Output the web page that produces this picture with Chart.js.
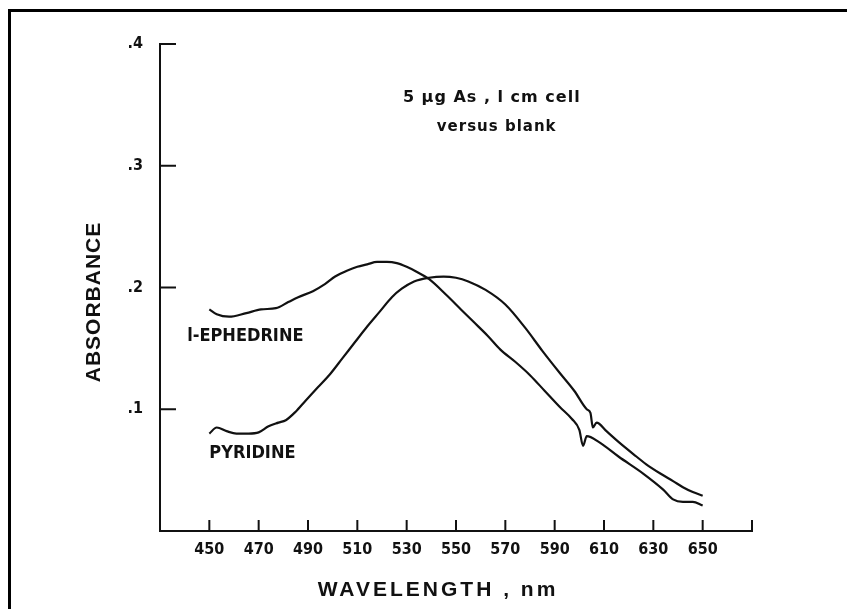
<!DOCTYPE html>
<html lang="en">
<head>
    <meta charset="UTF-8">
    <title>Absorbance versus wavelength</title>
    <style>
        body {
            margin: 0;
            background-color: #fff;
            overflow: hidden;
        }
        .frame {
            position: absolute;
            left: 8px;
            top: 9px;
            width: 860px;
            height: 700px;
            border-left: 3px solid #000;
            border-top: 3px solid #000;
        }
        .wrap {
            position: absolute;
            left: 0;
            top: 0;
            width: 847px;
            height: 609px;
        }
    </style>
</head>
<body>
    <div class="frame"></div>
    <div class="wrap"><canvas id="spectrum"></canvas></div>

    <script src="https://cdn.jsdelivr.net/npm/chart.js"></script>
    <script>
        // values
        const ephedrineNm = [450, 453, 458, 465, 471, 477, 482, 486, 492, 497, 501, 506, 510, 514, 518, 522, 526, 530, 534, 539, 546, 552, 557, 563, 568, 574, 580, 586, 592, 597, 600, 601.5, 603, 608, 616, 626, 634, 638, 642, 646, 650];
        const ephedrineAbs = [0.182, 0.178, 0.176, 0.179, 0.182, 0.183, 0.188, 0.192, 0.197, 0.203, 0.209, 0.214, 0.217, 0.219, 0.221, 0.221, 0.220, 0.217, 0.213, 0.207, 0.194, 0.182, 0.172, 0.160, 0.149, 0.139, 0.128, 0.115, 0.102, 0.092, 0.083, 0.070, 0.078, 0.073, 0.061, 0.047, 0.034, 0.026, 0.024, 0.024, 0.021];

        const pyridineNm = [450, 453, 457, 461, 466, 470, 474, 478, 481, 485, 489, 494, 499, 504, 509, 514, 519, 524, 528, 533, 539, 545, 550, 555, 562, 570, 578, 585, 592, 598, 603, 604.5, 605.5, 607, 611, 616, 622, 627, 633, 638, 642, 646, 650];
        const pyridineAbs = [0.080, 0.085, 0.082, 0.080, 0.080, 0.081, 0.086, 0.089, 0.091, 0.098, 0.107, 0.118, 0.129, 0.142, 0.155, 0.168, 0.180, 0.192, 0.199, 0.205, 0.208, 0.209, 0.208, 0.205, 0.198, 0.186, 0.167, 0.148, 0.130, 0.115, 0.100, 0.097, 0.085, 0.089, 0.082, 0.073, 0.063, 0.055, 0.047, 0.041, 0.036, 0.032, 0.029];

        const xTicks = [450, 470, 490, 510, 530, 550, 570, 590, 610, 630, 650, 670];
        const yTicks = [0.1, 0.2, 0.3, 0.4];

        // in-plot text: [text, wavelength, absorbance, align]
        const notes = [
            ['l-EPHEDRINE', 441, 0.160, 'left'],
            ['PYRIDINE', 450, 0.064, 'left']
        ];
        const caption = ['5 \u00b5g As , l cm cell', 'versus blank'];

        const ink = '#111';
        const narrow = "'Liberation Sans Narrow', 'DejaVu Sans Condensed', 'Arial Narrow', sans-serif";

        function toPoints(xs, ys) {
            return xs.map((x, i) => ({ x: x, y: ys[i] }));
        }

        // inward tick marks, labels inside the plot, axis titles
        const paperPlugin = {
            id: 'paper',
            afterDraw(chart) {
                const ctx = chart.ctx;
                const xs = chart.scales.x;
                const ys = chart.scales.y;
                const area = chart.chartArea;
                ctx.save();
                ctx.strokeStyle = ink;
                ctx.lineWidth = 2;
                xTicks.forEach(v => {
                    const px = xs.getPixelForValue(v);
                    ctx.beginPath();
                    ctx.moveTo(px, area.bottom);
                    ctx.lineTo(px, area.bottom - 11);
                    ctx.stroke();
                });
                yTicks.forEach(v => {
                    const py = ys.getPixelForValue(v);
                    ctx.beginPath();
                    ctx.moveTo(area.left, py);
                    ctx.lineTo(area.left + 16, py);
                    ctx.stroke();
                });

                ctx.fillStyle = ink;
                ctx.textBaseline = 'middle';
                ctx.font = 'bold 18px ' + narrow;
                notes.forEach(n => {
                    ctx.textAlign = n[3];
                    ctx.fillText(n[0], xs.getPixelForValue(n[1]), ys.getPixelForValue(n[2]));
                });

                ctx.textAlign = 'center';
                ctx.letterSpacing = '1px';
                ctx.font = 'bold 16px "DejaVu Sans", sans-serif';
                ctx.fillText(caption[0], xs.getPixelForValue(564.5), ys.getPixelForValue(0.356));
                ctx.font = 'bold 15px "DejaVu Sans", sans-serif';
                ctx.fillText(caption[1], xs.getPixelForValue(566.5), ys.getPixelForValue(0.332));

                // axis titles
                ctx.font = 'bold 21px "Liberation Sans", Arial, sans-serif';
                ctx.letterSpacing = '3px';
                ctx.fillText('WAVELENGTH , nm', 438, 590);
                ctx.letterSpacing = '1px';
                ctx.translate(94, 302);
                ctx.rotate(-Math.PI / 2);
                ctx.fillText('ABSORBANCE', 0, 0);
                ctx.restore();
            }
        };

        new Chart(document.getElementById('spectrum'), {
            type: 'line',
            data: {
                datasets: [
                    {
                        label: 'l-Ephedrine',
                        data: toPoints(ephedrineNm, ephedrineAbs),
                        borderColor: ink,
                        borderWidth: 2.2,
                        pointRadius: 0,
                        cubicInterpolationMode: 'monotone',
                        fill: false
                    },
                    {
                        label: 'Pyridine',
                        data: toPoints(pyridineNm, pyridineAbs),
                        borderColor: ink,
                        borderWidth: 2.2,
                        pointRadius: 0,
                        cubicInterpolationMode: 'monotone',
                        fill: false
                    }
                ]
            },
            options: {
                responsive: true,
                maintainAspectRatio: false,
                animation: false,
                layout: { padding: { left: 0, top: 44, right: 95, bottom: 0 } },
                plugins: {
                    legend: { display: false },
                    tooltip: { enabled: false }
                },
                scales: {
                    x: {
                        type: 'linear',
                        min: 430,
                        max: 670,
                        afterFit(scale) { scale.height = 609 - 531; },
                        afterBuildTicks(scale) {
                            scale.ticks = xTicks.map(v => ({ value: v }));
                        },
                        ticks: {
                            color: ink,
                            padding: 9,
                            maxRotation: 0,
                            autoSkip: false,
                            font: { family: narrow, size: 16, weight: 'bold' },
                            callback: v => (v >= 450 && v <= 650) ? String(v) : ''
                        },
                        grid: { display: true, drawOnChartArea: false, drawTicks: false },
                        border: { display: true, color: ink, width: 2 }
                    },
                    y: {
                        min: 0,
                        max: 0.4,
                        afterFit(scale) { scale.width = 160; },
                        afterBuildTicks(scale) {
                            scale.ticks = yTicks.map(v => ({ value: v }));
                        },
                        ticks: {
                            color: ink,
                            padding: 17,
                            font: { family: narrow, size: 16, weight: 'bold' },
                            callback: v => '.' + Math.round(v * 10)
                        },
                        grid: { display: true, drawOnChartArea: false, drawTicks: false },
                        border: { display: true, color: ink, width: 2 }
                    }
                }
            },
            plugins: [paperPlugin]
        });
    </script>
</body>
</html>
